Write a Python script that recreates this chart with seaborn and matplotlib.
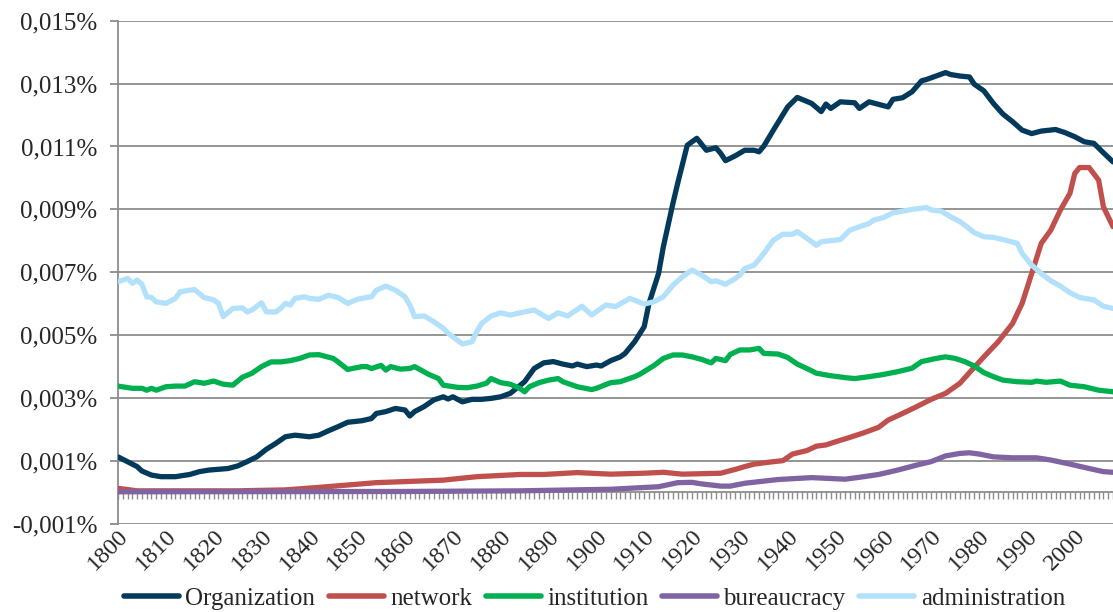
import numpy as np
import pandas as pd
import seaborn as sns
import matplotlib.pyplot as plt
from matplotlib.ticker import FuncFormatter, MultipleLocator

# values, in thousandths of a percent
org_years = [1800, 1804, 1805, 1807, 1809, 1812, 1815, 1817, 1819, 1823, 1825, 1827, 1829, 1831,
             1833, 1835, 1837, 1840, 1842, 1844, 1846, 1848, 1851, 1853, 1854, 1856, 1858, 1860,
             1861, 1862, 1864, 1866, 1868, 1869, 1870, 1872, 1874, 1876, 1878, 1880, 1882, 1885,
             1887, 1889, 1891, 1893, 1895, 1896, 1898, 1900, 1901, 1903, 1905, 1906, 1908, 1910,
             1911, 1913, 1914, 1916, 1917, 1919, 1921, 1923, 1925, 1926, 1927, 1929, 1931, 1933,
             1934, 1935, 1937, 1940, 1942, 1945, 1947, 1948, 1949, 1951, 1954, 1955, 1957, 1961,
             1962, 1964, 1966, 1968, 1969, 1971, 1973, 1974, 1976, 1978, 1979, 1981, 1983, 1985,
             1987, 1989, 1991, 1993, 1996, 1998, 2000, 2002, 2004, 2006, 2008]
organization = [1.13, 0.82, 0.68, 0.55, 0.50, 0.50, 0.57, 0.66, 0.71, 0.76, 0.84, 0.98, 1.13, 1.37,
                1.56, 1.77, 1.82, 1.77, 1.82, 1.96, 2.09, 2.23, 2.28, 2.35, 2.51, 2.57, 2.67, 2.62,
                2.43, 2.57, 2.73, 2.94, 3.04, 2.97, 3.04, 2.88, 2.96, 2.96, 2.99, 3.04, 3.15, 3.52,
                3.94, 4.12, 4.16, 4.08, 4.02, 4.08, 4.00, 4.05, 4.02, 4.19, 4.31, 4.42, 4.79, 5.27,
                6.01, 6.96, 7.81, 9.19, 9.83, 11.04, 11.26, 10.88, 10.96, 10.78, 10.55, 10.70, 10.88, 10.88,
                10.83, 11.01, 11.52, 12.26, 12.56, 12.37, 12.11, 12.35, 12.21, 12.42, 12.39, 12.21, 12.42, 12.26,
                12.50, 12.55, 12.74, 13.09, 13.13, 13.24, 13.35, 13.29, 13.24, 13.21, 12.98, 12.77, 12.37, 12.03,
                11.79, 11.52, 11.41, 11.49, 11.54, 11.44, 11.31, 11.15, 11.10, 10.80, 10.51]

net_years = [1800, 1804, 1825, 1835, 1842, 1854, 1868, 1875, 1884, 1889, 1896, 1903, 1910, 1914,
             1918, 1926, 1929, 1931, 1933, 1936, 1939, 1941, 1944, 1946, 1948, 1950, 1953, 1956,
             1959, 1961, 1964, 1967, 1970, 1973, 1976, 1978, 1981, 1984, 1987, 1989, 1991, 1993,
             1995, 1997, 1999, 2000, 2001, 2003, 2005, 2006, 2008]
network = [0.13, 0.05, 0.05, 0.08, 0.16, 0.31, 0.39, 0.50, 0.57, 0.57, 0.63, 0.58, 0.61, 0.64,
           0.58, 0.61, 0.73, 0.82, 0.90, 0.96, 1.01, 1.22, 1.33, 1.47, 1.51, 1.61, 1.75, 1.90,
           2.07, 2.30, 2.51, 2.73, 2.96, 3.15, 3.47, 3.81, 4.31, 4.79, 5.37, 6.01, 6.96, 7.92,
           8.34, 8.98, 9.51, 10.14, 10.33, 10.33, 9.93, 9.08, 8.45]

inst_years = [1800, 1803, 1805, 1806, 1807, 1808, 1810, 1812, 1814, 1816, 1818, 1820, 1822, 1824,
              1826, 1828, 1830, 1832, 1834, 1836, 1838, 1840, 1842, 1845, 1846, 1848, 1851, 1852,
              1853, 1855, 1856, 1857, 1859, 1861, 1862, 1865, 1867, 1868, 1871, 1873, 1875, 1877,
              1878, 1880, 1882, 1884, 1885, 1886, 1888, 1890, 1892, 1893, 1896, 1899, 1900, 1903,
              1905, 1908, 1909, 1912, 1914, 1916, 1918, 1920, 1922, 1924, 1925, 1927, 1928, 1930,
              1932, 1934, 1935, 1938, 1940, 1942, 1944, 1946, 1949, 1952, 1954, 1957, 1960, 1963,
              1966, 1968, 1971, 1973, 1975, 1977, 1979, 1981, 1983, 1985, 1988, 1991, 1992, 1994,
              1997, 1999, 2002, 2005, 2008]
institution = [3.38, 3.31, 3.31, 3.25, 3.31, 3.25, 3.36, 3.38, 3.38, 3.52, 3.47, 3.54, 3.44, 3.41,
               3.66, 3.79, 4.00, 4.15, 4.15, 4.19, 4.26, 4.37, 4.38, 4.26, 4.15, 3.91, 4.00, 4.00,
               3.94, 4.04, 3.89, 4.00, 3.92, 3.94, 4.00, 3.75, 3.62, 3.41, 3.34, 3.33, 3.38, 3.47,
               3.62, 3.49, 3.44, 3.31, 3.20, 3.36, 3.49, 3.57, 3.62, 3.52, 3.36, 3.27, 3.31, 3.49,
               3.52, 3.68, 3.75, 4.03, 4.26, 4.37, 4.37, 4.31, 4.23, 4.12, 4.26, 4.19, 4.39, 4.53,
               4.53, 4.58, 4.42, 4.40, 4.29, 4.08, 3.94, 3.79, 3.71, 3.65, 3.62, 3.68, 3.75, 3.84,
               3.95, 4.16, 4.26, 4.31, 4.26, 4.16, 4.02, 3.81, 3.68, 3.57, 3.52, 3.50, 3.54, 3.50,
               3.54, 3.41, 3.36, 3.25, 3.20]

bur_years = [1800, 1860, 1884, 1903, 1913, 1917, 1920, 1922, 1926, 1928, 1931, 1938, 1945, 1952,
             1955, 1959, 1963, 1967, 1970, 1973, 1976, 1978, 1980, 1983, 1987, 1992, 1995, 1999,
             2003, 2006, 2008]
bureaucracy = [0.02, 0.03, 0.05, 0.10, 0.18, 0.31, 0.32, 0.27, 0.20, 0.20, 0.29, 0.41, 0.47, 0.42,
               0.48, 0.57, 0.71, 0.87, 0.98, 1.16, 1.24, 1.26, 1.22, 1.13, 1.10, 1.10, 1.03, 0.90,
               0.76, 0.66, 0.64]

adm_years = [1800, 1802, 1803, 1804, 1805, 1806, 1807, 1808, 1810, 1812, 1813, 1815, 1816, 1818,
             1820, 1821, 1822, 1824, 1826, 1827, 1828, 1830, 1831, 1833, 1834, 1835, 1836, 1837,
             1839, 1840, 1842, 1844, 1846, 1848, 1850, 1852, 1853, 1854, 1856, 1858, 1860, 1861,
             1862, 1864, 1866, 1868, 1869, 1872, 1874, 1875, 1876, 1878, 1880, 1882, 1884, 1887,
             1890, 1892, 1894, 1897, 1899, 1902, 1904, 1907, 1910, 1912, 1914, 1916, 1918, 1920,
             1922, 1924, 1925, 1927, 1929, 1930, 1931, 1933, 1934, 1935, 1937, 1939, 1941, 1942,
             1944, 1946, 1947, 1951, 1953, 1955, 1957, 1958, 1960, 1962, 1966, 1969, 1970, 1972,
             1974, 1976, 1977, 1979, 1981, 1983, 1985, 1988, 1989, 1991, 1993, 1995, 1997, 1999,
             2001, 2004, 2006, 2008]
administration = [6.70, 6.80, 6.65, 6.75, 6.62, 6.22, 6.20, 6.06, 6.01, 6.17, 6.38, 6.43, 6.45, 6.20,
                  6.12, 6.01, 5.59, 5.85, 5.87, 5.74, 5.80, 6.03, 5.74, 5.74, 5.85, 6.01, 5.96, 6.17,
                  6.22, 6.17, 6.14, 6.27, 6.20, 6.01, 6.14, 6.20, 6.22, 6.43, 6.56, 6.43, 6.22, 5.96,
                  5.59, 5.61, 5.43, 5.22, 5.06, 4.72, 4.79, 5.11, 5.37, 5.61, 5.71, 5.64, 5.71, 5.80,
                  5.53, 5.71, 5.61, 5.92, 5.64, 5.96, 5.91, 6.17, 5.99, 6.06, 6.22, 6.59, 6.86, 7.07,
                  6.91, 6.70, 6.73, 6.62, 6.80, 6.91, 7.12, 7.23, 7.41, 7.60, 8.02, 8.21, 8.21, 8.29,
                  8.08, 7.86, 7.97, 8.04, 8.34, 8.45, 8.55, 8.66, 8.74, 8.89, 9.00, 9.06, 8.98, 8.95,
                  8.77, 8.61, 8.50, 8.26, 8.13, 8.11, 8.04, 7.92, 7.60, 7.23, 6.96, 6.73, 6.56, 6.35,
                  6.20, 6.12, 5.92, 5.85]

names = ["Organization", "network", "institution", "bureaucracy", "administration"]
colors = ["#033a5c", "#c0504d", "#00b050", "#8064a2", "#b3e1fb"]

frames = []
for name, yrs, vals in zip(names,
                           [org_years, net_years, inst_years, bur_years, adm_years],
                           [organization, network, institution, bureaucracy, administration]):
    frames.append(pd.DataFrame({"year": yrs, "value": np.array(vals) * 1e-3, "word": name}))
df = pd.concat(frames, ignore_index=True)

sns.set_style("white")
plt.rcParams['font.family'] = ['Liberation Serif', 'DejaVu Serif']

grey = "#8c8c8c"
fig = plt.figure(figsize=(11.13, 6.12), dpi=100)
ax = fig.add_axes([118 / 1113, 1 - 523.85 / 612, 1 - 118 / 1113, (523.85 - 20.7) / 612])

sns.lineplot(data=df, x="year", y="value", hue="word", hue_order=names,
             palette=colors, estimator=None, linewidth=3.8, ax=ax, zorder=3)

ax.set_xlim(1800, 2008)
ax.set_ylim(-0.001, 0.015)
ax.yaxis.set_major_locator(MultipleLocator(0.002, offset=0.001))
ax.yaxis.set_major_formatter(FuncFormatter(lambda v, p: f"{v:.3f}%".replace(".", ",")))
ax.grid(axis="y", color=grey, linewidth=1.3)
ax.set_axisbelow(True)

ax.set_xticks(np.arange(1800, 2001, 10))
ax.xaxis.set_minor_locator(MultipleLocator(1))
ax.spines["bottom"].set_position(("data", 0))
for s in ["top", "right"]:
    ax.spines[s].set_visible(False)
for s in ["left", "bottom"]:
    ax.spines[s].set_color(grey)
    ax.spines[s].set_linewidth(1.3)

ax.tick_params(axis="y", which="major", direction="out", length=6, color=grey,
               width=1.3, labelsize=18, pad=9, left=True)
ax.tick_params(axis="x", which="both", direction="out", length=5, color=grey,
               width=1.0, bottom=True)
ax.tick_params(axis="x", which="major", labelsize=17.5, pad=19)
for lab in ax.get_xticklabels():
    lab.set_rotation(45)
    lab.set_ha("right")
    lab.set_va("top")
    lab.set_rotation_mode("anchor")

ax.set_xlabel("")
ax.set_ylabel("")

sns.move_legend(ax, "center", bbox_to_anchor=(0.479, -0.148), ncol=5, frameon=False,
                title=None, fontsize=18, handlelength=2.2, handletextpad=0.25,
                columnspacing=0.55)
for h in ax.get_legend().legend_handles:
    h.set_linewidth(4)

fig.savefig("out.png", dpi=100)
